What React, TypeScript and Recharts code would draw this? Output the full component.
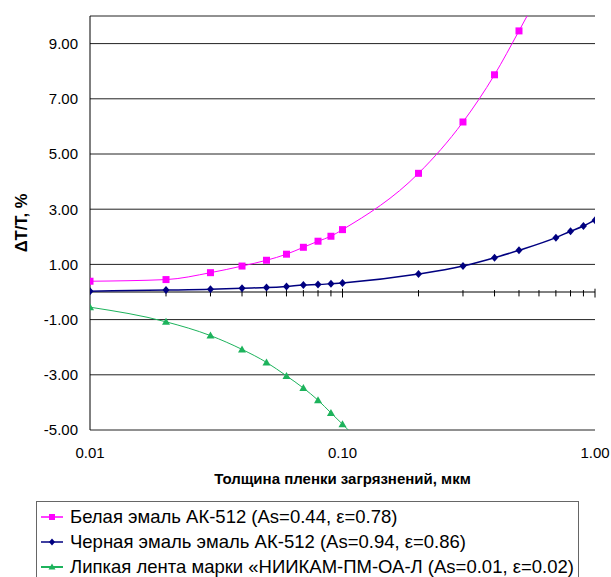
import React from 'react';
import { LineChart, Line, XAxis, YAxis, CartesianGrid, ReferenceLine, Legend, Label } from 'recharts';

const xValues = [0.01, 0.02, 0.03, 0.04, 0.05, 0.06, 0.07, 0.08, 0.09, 0.1, 0.2, 0.3, 0.4, 0.5, 0.6, 0.7, 0.8, 0.9, 1.0];
const whiteEnamel: (number | null)[] = [0.39, 0.45, 0.7, 0.94, 1.15, 1.37, 1.62, 1.84, 2.02, 2.26, 4.3, 6.16, 7.87, 9.46, 10.8, null, null, null, null];
const blackEnamel: (number | null)[] = [0.03, 0.07, 0.1, 0.14, 0.16, 0.2, 0.25, 0.27, 0.3, 0.33, 0.65, 0.94, 1.24, 1.51, null, 1.97, 2.2, 2.39, 2.6];
const tape: (number | null)[] = [-0.55, -1.08, -1.58, -2.08, -2.55, -3.04, -3.48, -3.92, -4.38, -4.79, -7.6, null, null, null, null, null, null, null, null];

const xTicks = [0.01, 0.1, 1];
const yTicks = [-5, -3, -1, 1, 3, 5, 7, 9];
const minorXTicks = [0.02, 0.03, 0.04, 0.05, 0.06, 0.07, 0.08, 0.09, 0.2, 0.3, 0.4, 0.5, 0.6, 0.7, 0.8, 0.9];
const majorXTicks = [0.1, 1];

const seriesNames = [
  'Белая эмаль АК-512 (As=0.44, ε=0.78)',
  'Черная эмаль эмаль АК-512 (As=0.94, ε=0.86)',
  'Липкая лента марки «НИИКАМ-ПМ-ОА-Л (As=0.01, ε=0.02)',
];
const colors = ['#FF00FF', '#000080', '#1DB35C'];

const data = xValues.map((x, i) => ({ x, white: whiteEnamel[i], black: blackEnamel[i], tape: tape[i] }));

const Y_MIN = -5;
const Y_MAX = 10;

const inRange = (v: any) => v !== null && v !== undefined && v >= Y_MIN && v <= Y_MAX;

const squareDot = (props: any) => {
  const { cx, cy, value, index } = props;
  if (!inRange(value) || cx == null || cy == null) return <g key={`s${index}`} />;
  return <rect key={`s${index}`} x={cx - 3.5} y={cy - 3.5} width={7} height={7} fill={colors[0]} />;
};
const diamondDot = (props: any) => {
  const { cx, cy, value, index } = props;
  if (!inRange(value) || cx == null || cy == null) return <g key={`d${index}`} />;
  return <polygon key={`d${index}`} points={`${cx},${cy - 4} ${cx + 3.5},${cy} ${cx},${cy + 4} ${cx - 3.5},${cy}`} fill={colors[1]} />;
};
const triDot = (props: any) => {
  const { cx, cy, value, index } = props;
  if (!inRange(value) || cx == null || cy == null) return <g key={`t${index}`} />;
  return <polygon key={`t${index}`} points={`${cx},${cy - 4} ${cx + 4},${cy + 3} ${cx - 4},${cy + 3}`} fill={colors[2]} />;
};

const markerSvg = (i: number) => {
  const c = colors[i];
  return (
    <svg width={24} height={10} style={{ display: 'block', flex: 'none' }}>
      <line x1={1} y1={5} x2={23} y2={5} stroke={c} strokeWidth={i === 2 ? 2 : 1.5} />
      {i === 0 && <rect x={9} y={2} width={6} height={6} fill={c} />}
      {i === 1 && <polygon points="12,1.5 15,5 12,8.5 9,5" fill={c} />}
      {i === 2 && <polygon points="12,1.5 15.5,7.5 8.5,7.5" fill={c} />}
    </svg>
  );
};

const LegendBox = () => (
  <div
    style={{
      border: '1px solid #666',
      boxSizing: 'border-box',
      width: 543,
      height: 90,
      padding: '2px 0 0 3px',
      fontFamily: '"Liberation Sans", Arial, sans-serif',
      fontSize: 18.5,
      color: '#000',
      background: '#fff',
    }}
  >
    {seriesNames.map((n, i) => (
      <div key={n} style={{ display: 'flex', alignItems: 'center', height: 25 }}>
        {markerSvg(i)}
        <span style={{ marginLeft: 6, whiteSpace: 'nowrap', lineHeight: '25px' }}>{n}</span>
      </div>
    ))}
  </div>
);

export default function App() {
  const font = '"Liberation Sans", Arial, sans-serif';
  return (
    <div style={{ position: 'absolute', left: 0, top: 0, width: 611, height: 577, background: '#fff', overflow: 'hidden' }}>
      <LineChart width={611} height={577} data={data} margin={{ top: 16, right: 16, left: 0, bottom: 87 }}>
        <CartesianGrid horizontal vertical={false} stroke="#222" strokeWidth={1} />
        <XAxis
          dataKey="x"
          type="number"
          scale="log"
          domain={[0.01, 1]}
          allowDataOverflow
          ticks={xTicks}
          tickFormatter={(v: number) => v.toFixed(2)}
          axisLine={false}
          tickLine={false}
          tickSize={0}
          tickMargin={17}
          height={60}
          tick={{ fill: '#000', fontSize: 15, fontFamily: font }}
          interval={0}
        >
          <Label
            value="Толщина пленки загрязнений, мкм"
            position="insideBottom"
            offset={6}
            style={{ fontWeight: 'bold', fontSize: 15, fontFamily: font, fill: '#000' }}
          />
        </XAxis>
        <YAxis
          type="number"
          domain={[Y_MIN, Y_MAX]}
          allowDataOverflow
          ticks={yTicks}
          interval={0}
          width={90}
          tickFormatter={(v: number) => v.toFixed(2)}
          axisLine={{ stroke: '#000', strokeWidth: 1 }}
          tickLine={false}
          tickSize={0}
          tickMargin={12}
          tick={{ fill: '#000', fontSize: 15, fontFamily: font }}
        >
          <Label
            value="ΔT/T, %"
            angle={-90}
            position="insideLeft"
            offset={21}
            style={{ fontWeight: 'bold', fontSize: 16.5, fontFamily: font, fill: '#000', textAnchor: 'middle' }}
          />
        </YAxis>
        <ReferenceLine y={0} stroke="#000" strokeWidth={1} />
        {minorXTicks.map((t) => (
          <ReferenceLine key={`m${t}`} segment={[{ x: t, y: 0.07 }, { x: t, y: -0.16 }]} stroke="#000" strokeWidth={1} />
        ))}
        {majorXTicks.map((t) => (
          <ReferenceLine key={`M${t}`} segment={[{ x: t, y: 0.12 }, { x: t, y: -0.2 }]} stroke="#000" strokeWidth={1} />
        ))}
        <Line type="monotone" dataKey="white" stroke={colors[0]} strokeWidth={1} dot={squareDot} connectNulls isAnimationActive={false} />
        <Line type="monotone" dataKey="black" stroke={colors[1]} strokeWidth={1.5} dot={diamondDot} connectNulls isAnimationActive={false} />
        <Line type="monotone" dataKey="tape" stroke={colors[2]} strokeWidth={1} dot={triDot} isAnimationActive={false} />
        <Legend
          layout="vertical"
          align="center"
          verticalAlign="middle"
          content={() => <LegendBox />}
          wrapperStyle={{ left: 36, top: 501, width: 543 }}
        />
      </LineChart>
    </div>
  );
}
